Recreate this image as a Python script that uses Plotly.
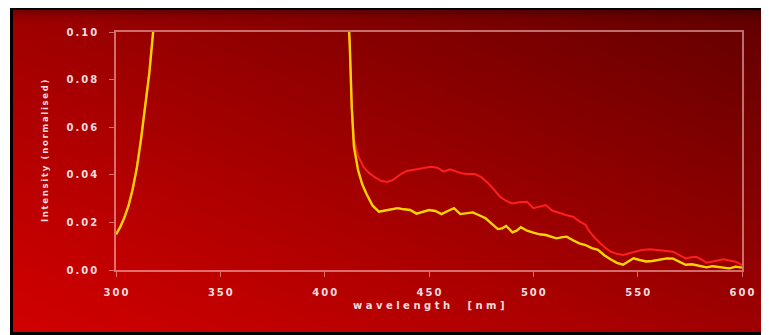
import base64, struct, zlib, math
import plotly.graph_objects as go

# ---------------- data ----------------
wl_yellow = [300, 302, 304, 306, 308, 310, 312, 314, 316, 318, 320, 335, 360, 390, 405,
             410, 412, 413, 414, 416, 418, 420, 423, 426, 429, 432, 435, 438, 441, 444,
             447, 450, 453, 456, 459, 462, 465, 468, 471, 474, 477, 480, 483, 485, 487,
             490, 492, 494, 497, 500, 503, 506, 509, 511, 514, 516, 519, 522, 525, 528,
             531, 534, 537, 540, 543, 546, 548, 551, 554, 557, 560, 564, 567, 570, 573,
             576, 578, 581, 583, 586, 589, 592, 594, 597, 600]
int_yellow = [0.015, 0.018, 0.022, 0.027, 0.034, 0.043, 0.055, 0.068, 0.083, 0.102, 0.125,
              0.6, 1.0, 0.8, 0.3,
              0.13, 0.095, 0.068, 0.052, 0.042, 0.036, 0.032, 0.027, 0.0245, 0.025, 0.0255,
              0.026, 0.0255, 0.0252, 0.0237, 0.0243, 0.0252, 0.0248, 0.0235, 0.0248, 0.026,
              0.0235, 0.0238, 0.0242, 0.023, 0.0218, 0.0195, 0.0172, 0.0175, 0.0185, 0.0158,
              0.0165, 0.018, 0.0165, 0.0157, 0.015, 0.0147, 0.014, 0.0133, 0.0138, 0.014,
              0.0125, 0.0112, 0.0105, 0.0092, 0.0085, 0.0062, 0.0045, 0.003, 0.0022, 0.0038,
              0.0049, 0.0042, 0.0036, 0.0038, 0.0042, 0.0049, 0.0048, 0.0035, 0.0022, 0.0024,
              0.002, 0.0015, 0.0011, 0.0016, 0.0014, 0.0009, 0.0007, 0.0014, 0.001]

wl_red = [300, 302, 304, 306, 308, 310, 312, 314, 316, 318, 320, 335, 360, 390, 405,
          410, 412, 413, 414, 416, 418.5, 421, 424, 427, 430, 433, 436, 439, 442, 445,
          448, 451, 454, 457, 460, 463, 466, 469, 472, 475, 478, 481, 484, 487, 490,
          493, 497, 500, 503, 506, 509, 513, 516, 519, 522, 525, 527, 530, 532, 535,
          537, 540, 543, 546, 549, 552, 556, 559, 562, 565, 567, 570, 573, 576, 578,
          581, 583, 586, 589, 591, 594, 597, 600]
int_red = [0.015, 0.018, 0.022, 0.027, 0.034, 0.043, 0.055, 0.068, 0.083, 0.102, 0.125,
           0.6, 1.0, 0.8, 0.3,
           0.13, 0.095, 0.068, 0.055, 0.048, 0.0434, 0.041, 0.039, 0.0375, 0.037, 0.038,
           0.040, 0.0415, 0.042, 0.0425, 0.043, 0.0434, 0.043, 0.0413, 0.0423, 0.0415,
           0.0405, 0.0403, 0.0403, 0.039, 0.0368, 0.034, 0.0308, 0.029, 0.028, 0.0285,
           0.0287, 0.026, 0.0265, 0.0273, 0.025, 0.0238, 0.023, 0.0224, 0.0205, 0.019,
           0.0161, 0.013, 0.0112, 0.009, 0.0077, 0.0068, 0.0063, 0.007, 0.0077, 0.0084,
           0.0087, 0.0085, 0.0081, 0.0079, 0.0077, 0.0062, 0.0049, 0.0054, 0.0056, 0.0042,
           0.0031, 0.0036, 0.0043, 0.0045, 0.004, 0.0035, 0.002]

x_ticks = [300, 350, 400, 450, 500, 550, 600]
y_ticks = [0.00, 0.02, 0.04, 0.06, 0.08, 0.10]
y_tick_labels = ["0.00", "0.02", "0.04", "0.06", "0.08", "0.10"]
x_title = "wavelength  [nm]"
y_title = "Intensity (normalised)"

# ---------------- helpers ----------------
OFF = 8                      # page body margin
W, H = 769 - OFF, 335 - OFF  # figure size
L, R, T, B = 116 - OFF, 742 - OFF, 32 - OFF, 270 - OFF   # plot area in figure pixels
PW, PH = R - L, B - T

def px(xp):   # page pixel -> paper
    return (xp - OFF - L) / PW

def py(yp):
    return (B - (yp - OFF)) / PH

def spaced(s, sep="\u2009"):
    return sep.join(list(s)).replace(" ", "\u00a0")

def chunk(tag, data):
    return struct.pack(">I", len(data)) + tag + data + struct.pack(">I", zlib.crc32(tag + data) & 0xffffffff)

def gradient_png(w, h):
    rows = []
    for j in range(h):
        v = 1 - j / (h - 1)          # 1 at top
        row = bytearray(b"\x00")
        for i in range(w):
            u = i / (w - 1)
            t = (u + v) / 2
            r = 208 - 110 * t ** 1.15
            ypix = j / (h - 1) * 322
            r *= 1 - 0.22 * math.exp(-ypix / 4.0)
            r = max(0, min(255, int(r)))
            row += bytes((r, 0, 0))
        rows.append(bytes(row))
    raw = b"".join(rows)
    png = b"\x89PNG\r\n\x1a\n" + chunk(b"IHDR", struct.pack(">IIBBBBB", w, h, 8, 2, 0, 0, 0)) \
        + chunk(b"IDAT", zlib.compress(raw, 9)) + chunk(b"IEND", b"")
    return "data:image/png;base64," + base64.b64encode(png).decode()

# ---------------- figure ----------------
fig = go.Figure()
fig.add_trace(go.Scatter(x=wl_red, y=int_red, mode="lines",
                         line=dict(color="#ff1e1e", width=2.0), showlegend=False))
fig.add_trace(go.Scatter(x=wl_yellow, y=int_yellow, mode="lines",
                         line=dict(color="#ffd400", width=2.4), showlegend=False))

axis_line = "rgba(255,200,200,0.55)"
tick_font = dict(family="DejaVu Sans", size=10, color="#f4dede", weight="bold")

fig.update_xaxes(range=[300, 600], tickvals=x_ticks,
                 ticktext=[spaced(str(v)) for v in x_ticks],
                 showgrid=False, zeroline=False, showline=True, linecolor=axis_line,
                 linewidth=1.6, mirror=True, ticks="outside", ticklen=5,
                 tickcolor=axis_line, tickwidth=1.2, tickfont=tick_font,
                 ticklabelstandoff=7)
fig.update_yaxes(range=[0, 0.1], tickvals=y_ticks,
                 ticktext=[spaced(s) for s in y_tick_labels],
                 showgrid=False, zeroline=False, showline=True, linecolor=axis_line,
                 linewidth=1.6, mirror=True, ticks="outside", ticklen=5,
                 tickcolor=axis_line, tickwidth=1.2, tickfont=tick_font,
                 ticklabelstandoff=10)

fig.add_layout_image(dict(source=gradient_png(190, 80), xref="paper", yref="paper",
                          x=px(13), y=py(10), sizex=(769 - 13) / PW, sizey=(332 - 10) / PH,
                          xanchor="left", yanchor="top", sizing="stretch", layer="below"))

fig.add_shape(type="rect", xref="paper", yref="paper",
              x0=px(11.5), x1=px(769 + 5), y0=py(333.5), y1=py(8.5),
              line=dict(color="#000000", width=3), fillcolor="rgba(0,0,0,0)", layer="below")

fig.add_annotation(text=spaced(x_title, "\u00a0"), xref="paper", yref="paper",
                   x=0.5, y=py(313), showarrow=False,
                   font=dict(family="DejaVu Sans", size=10, color="#f4dede", weight="bold"))
fig.add_annotation(text=spaced(y_title), xref="paper", yref="paper",
                   x=px(38), y=0.5, textangle=-90, showarrow=False,
                   font=dict(family="DejaVu Sans", size=8.5, color="#f4dede", weight="bold"))

fig.update_layout(width=W, height=H,
                  margin=dict(l=L, r=W - R, t=T, b=H - B),
                  paper_bgcolor="#ffffff", plot_bgcolor="rgba(0,0,0,0)")

fig.write_html("out.html")
